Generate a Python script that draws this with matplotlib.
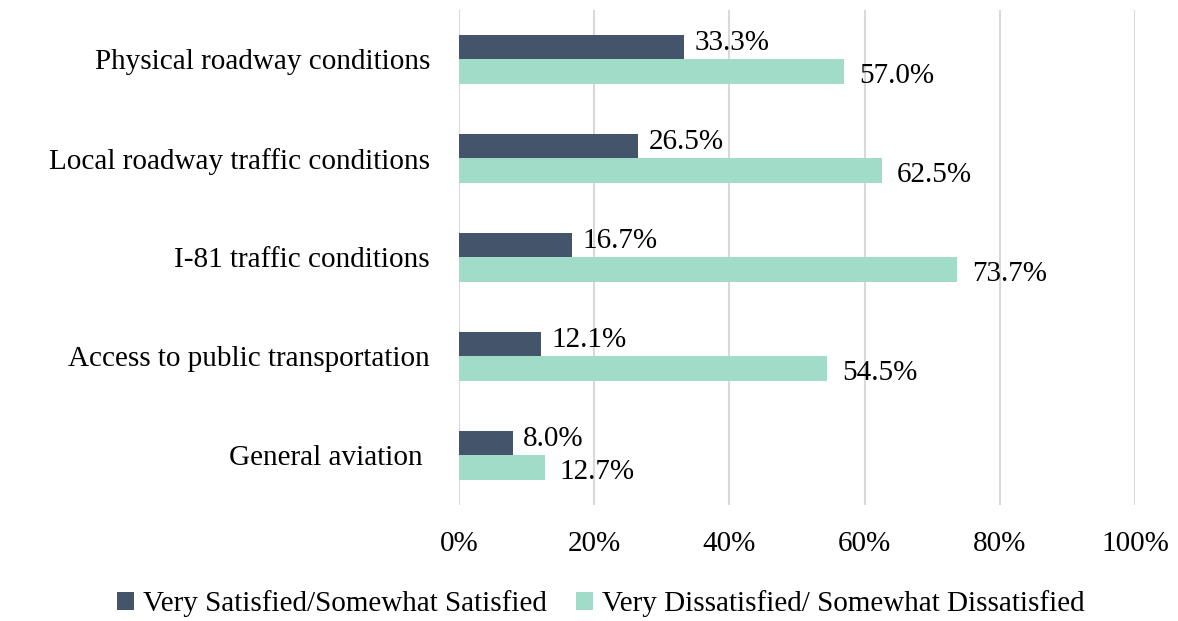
import numpy as np
import matplotlib.pyplot as plt
from matplotlib.ticker import FuncFormatter

plt.rcParams['font.family'] = ['Liberation Serif', 'DejaVu Serif']

categories = [
    "Physical roadway conditions",
    "Local roadway traffic conditions",
    "I-81 traffic conditions",
    "Access to public transportation",
    "General aviation ",
]
satisfied = [33.3, 26.5, 16.7, 12.1, 8.0]
dissatisfied = [57.0, 62.5, 73.7, 54.5, 12.7]
series_names = ["Very Satisfied/Somewhat Satisfied",
                "Very Dissatisfied/ Somewhat Dissatisfied"]

dark = "#44546A"
mint = "#A0DCC8"
fs = 21

fig = plt.figure(figsize=(11.78, 6.21), dpi=100)
ax = fig.add_axes([0.3897, 0.187, 0.5738, 0.797])

y = np.arange(len(categories))
h = 0.25
b1 = ax.barh(y - h / 2, satisfied, height=h, color=dark, label=series_names[0], zorder=3)
b2 = ax.barh(y + h / 2, dissatisfied, height=h, color=mint, label=series_names[1], zorder=3)

for yi, v in zip(y, satisfied):
    ax.text(v + 1.5, yi - h / 2 - 0.04, f"{v:.1f}%", va="center", ha="left", fontsize=fs)
for yi, v in zip(y, dissatisfied):
    ax.text(v + 2.2, yi + h / 2 + 0.04, f"{v:.1f}%", va="center", ha="left", fontsize=fs)

ax.set_xlim(0, 100)
ax.set_ylim(len(categories) - 0.5, -0.5)
ax.set_xticks(np.arange(0, 101, 20))
ax.xaxis.set_major_formatter(FuncFormatter(lambda v, p: f"{v:.0f}%"))
ax.set_yticks(y)
ax.set_yticklabels(categories)
ax.tick_params(axis="x", length=0, pad=19, labelsize=fs)
ax.tick_params(axis="y", length=0, pad=21, labelsize=fs)
ax.grid(axis="x", color="#D9D9D9", linewidth=1.5, zorder=0)
for s in ax.spines.values():
    s.set_visible(False)

fig.legend(handles=[b1, b2], loc="center", bbox_to_anchor=(0.51, 0.028), ncol=2,
           frameon=False, fontsize=fs, handlelength=0.6, handleheight=0.6,
           handletextpad=0.3, columnspacing=1.0)

fig.savefig("out.png", dpi=100)
